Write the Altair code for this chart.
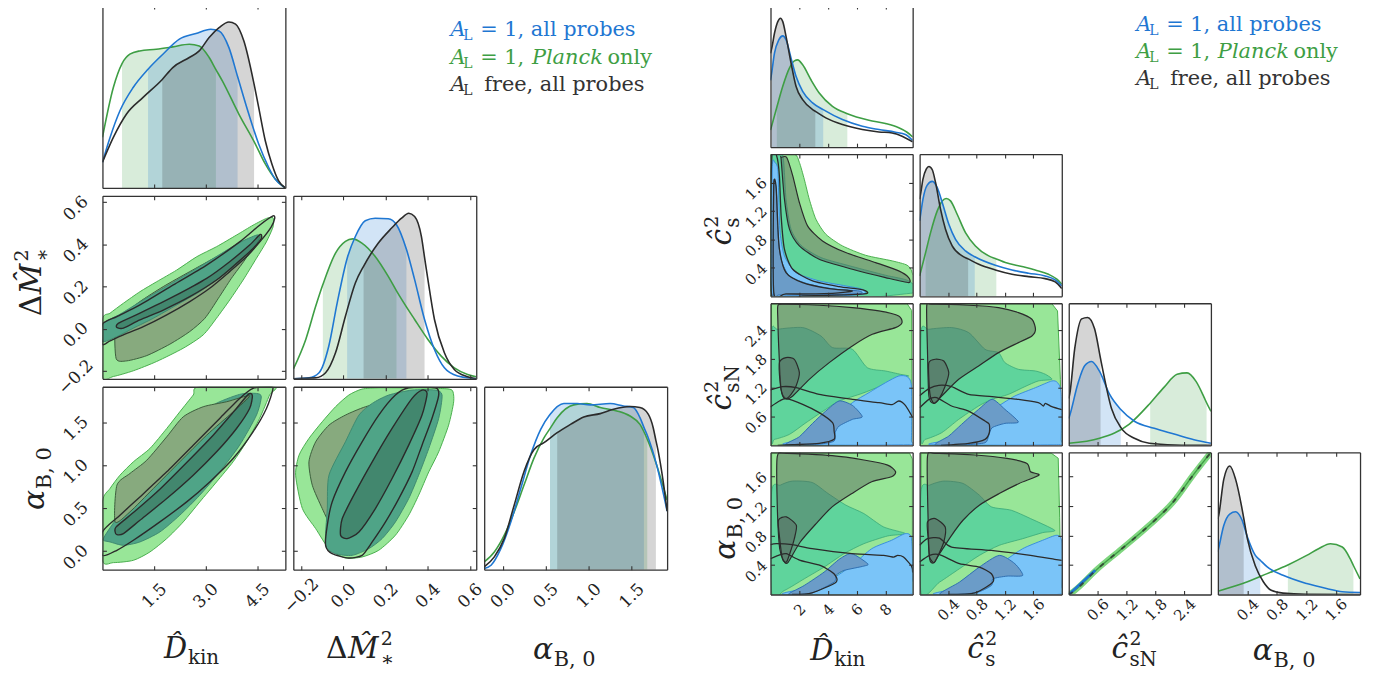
import altair as alt
import pandas as pd

FONT = "DejaVu Serif"
FRAME = "#333333"
TXT = "#222222"
BLUE = "#1f77d2"
GREEN = "#3e9e44"
BLACK = "#2b2b2b"

# ---------------- axis domains / tick labels ----------------
L_DKIN_DOM = [0.0, 5.32]
L_DM_DOM = [-0.237, 0.63]
L_AB_DOM = [-0.215, 1.915]
L_DKIN_TICKS = [1.5, 3.0, 4.5]
L_DM_TICKS = [-0.2, 0.0, 0.2, 0.4, 0.6]
L_AB_TICKS = [0.0, 0.5, 1.0, 1.5]

R_DKIN_DOM = [0.0, 9.9]
R_CS_DOM = [0.0, 2.0]
R_CSN_DOM = [0.0, 2.95]
R_AB_DOM = [0.0, 1.93]
R_DKIN_TICKS = [2, 4, 6, 8]
R_CS_TICKS = [0.4, 0.8, 1.2, 1.6]
R_CSN_TICKS = [0.6, 1.2, 1.8, 2.4]
R_AB_TICKS = [0.4, 0.8, 1.2, 1.6]

# ---------------- 1D marginals (x, density) and shaded intervals ----------------
L_DKIN_GREEN = [(0.0,0.276),(0.317,0.549),(0.57,0.68),(0.797,0.731),(1.085,0.749),(1.566,0.758),(2.046,0.771),(2.526,0.785),(2.815,0.776),(3.103,0.713),(3.30,0.647),(3.487,0.585),(3.967,0.404),(4.448,0.24),(4.736,0.131),(5.024,0.049),(5.264,0.007),(5.32,0.0)]
L_DKIN_BLUE = [(0.0,0.14),(0.221,0.276),(0.509,0.422),(0.893,0.549),(1.326,0.649),(1.758,0.731),(2.238,0.813),(2.719,0.844),(3.151,0.867),(3.391,0.858),(3.679,0.767),(3.93,0.609),(4.256,0.404),(4.544,0.24),(4.832,0.113),(5.024,0.049),(5.264,0.007),(5.32,0.0)]
L_DKIN_BLACK = [(0.0,0.14),(0.317,0.276),(0.701,0.404),(1.182,0.495),(1.74,0.593),(2.046,0.658),(2.526,0.713),(2.815,0.749),(3.103,0.822),(3.391,0.876),(3.679,0.907),(3.871,0.895),(4.111,0.804),(4.41,0.567),(4.544,0.44),(4.736,0.258),(4.928,0.131),(5.12,0.04),(5.32,0.0)]
L_DKIN_CI = {"green": [0.57, 3.30], "blue": [1.326, 3.93], "black": [1.74, 4.41]}

L_DM_GREEN = [(-0.236,0.055),(-0.178,0.215),(-0.131,0.396),(-0.097,0.515),(-0.037,0.687),(0.010,0.751),(0.044,0.765),(0.088,0.742),(0.151,0.669),(0.213,0.56),(0.252,0.481),(0.338,0.324),(0.401,0.215),(0.464,0.124),(0.526,0.06),(0.589,0.024),(0.63,0.011)]
L_DM_BLUE = [(-0.236,0.0),(-0.162,0.005),(-0.115,0.033),(-0.069,0.178),(-0.029,0.415),(0.018,0.658),(0.057,0.778),(0.104,0.864),(0.151,0.878),(0.213,0.875),(0.252,0.842),(0.299,0.708),(0.338,0.542),(0.385,0.324),(0.432,0.16),(0.479,0.06),(0.542,0.015),(0.63,0.0)]
L_DM_BLACK = [(-0.236,0.0),(-0.131,0.005),(-0.084,0.033),(-0.037,0.142),(0.010,0.342),(0.057,0.524),(0.096,0.615),(0.166,0.742),(0.229,0.824),(0.276,0.878),(0.310,0.905),(0.338,0.887),(0.370,0.778),(0.385,0.664),(0.401,0.542),(0.432,0.324),(0.479,0.142),(0.526,0.051),(0.589,0.011),(0.63,0.0)]
L_DM_CI = {"green": [-0.097, 0.252], "blue": [0.018, 0.299], "black": [0.096, 0.385]}

L_AB_BLUE = [(-0.215,0.006),(-0.135,0.024),(-0.02,0.116),(0.096,0.262),(0.212,0.446),(0.327,0.629),(0.443,0.767),(0.551,0.848),(0.713,0.908),(0.867,0.908),(1.021,0.901),(1.252,0.908),(1.406,0.895),(1.522,0.886),(1.599,0.831),(1.645,0.778),(1.695,0.721),(1.792,0.574),(1.915,0.32)]
L_AB_GREEN = [(-0.215,0.042),(-0.097,0.097),(0.019,0.189),(0.135,0.317),(0.25,0.464),(0.366,0.611),(0.481,0.721),(0.551,0.771),(0.635,0.831),(0.828,0.901),(0.982,0.908),(1.136,0.886),(1.329,0.868),(1.483,0.84),(1.599,0.794),(1.684,0.713),(1.792,0.574),(1.915,0.38)]
L_AB_BLACK = [(-0.215,0.015),(-0.097,0.07),(0.019,0.171),(0.135,0.354),(0.25,0.538),(0.366,0.657),(0.481,0.694),(0.635,0.749),(0.79,0.794),(0.944,0.835),(1.136,0.853),(1.291,0.877),(1.483,0.892),(1.599,0.886),(1.695,0.85),(1.753,0.776),(1.784,0.707),(1.811,0.648),(1.869,0.483),(1.915,0.32)]
L_AB_CI = {"green": [0.551, 1.684], "blue": [0.551, 1.645], "black": [0.635, 1.784]}

R_DKIN_BLACK = [(0.0,0.66),(0.092,0.698),(0.277,0.801),(0.508,0.883),(0.692,0.907),(0.854,0.883),(1.085,0.778),(1.431,0.591),(1.777,0.428),(2.239,0.334),(2.931,0.264),(3.12,0.252),(3.854,0.206),(5.008,0.159),(6.393,0.124),(7.547,0.107),(8.47,0.100),(9.163,0.077),(9.9,0.037)]
R_DKIN_BLUE = [(0.0,0.47),(0.092,0.53),(0.277,0.661),(0.577,0.755),(0.854,0.783),(1.085,0.755),(1.431,0.626),(1.777,0.498),(2.239,0.393),(2.931,0.311),(3.67,0.264),(5.008,0.194),(6.393,0.147),(7.547,0.124),(8.701,0.105),(9.394,0.089),(9.9,0.047)]
R_DKIN_GREEN = [(0.0,0.12),(0.44,0.281),(0.854,0.428),(1.316,0.556),(1.662,0.607),(1.893,0.614),(2.239,0.579),(2.816,0.474),(3.393,0.381),(4.316,0.287),(5.35,0.235),(6.855,0.189),(8.009,0.166),(8.932,0.136),(9.509,0.105),(9.9,0.072)]
R_DKIN_CI = {"green": [0.44, 5.35], "blue": [0.092, 3.67], "black": [0.092, 3.12]}

R_CS_BLACK = [(0.0,0.683),(0.014,0.72),(0.047,0.824),(0.093,0.894),(0.131,0.913),(0.178,0.89),(0.224,0.8),(0.294,0.613),(0.364,0.472),(0.458,0.354),(0.598,0.284),(0.682,0.263),(0.832,0.225),(1.065,0.185),(1.299,0.155),(1.533,0.138),(1.766,0.124),(1.907,0.101),(2.0,0.054)]
R_CS_BLUE = [(0.0,0.531),(0.014,0.576),(0.047,0.683),(0.107,0.782),(0.178,0.808),(0.248,0.765),(0.318,0.66),(0.411,0.507),(0.505,0.401),(0.645,0.319),(0.776,0.278),(1.065,0.218),(1.299,0.185),(1.533,0.162),(1.766,0.143),(1.907,0.115),(2.0,0.073)]
R_CS_GREEN = [(0.0,0.143),(0.084,0.307),(0.154,0.448),(0.248,0.601),(0.318,0.671),(0.374,0.688),(0.435,0.671),(0.528,0.577),(0.645,0.448),(0.785,0.354),(0.972,0.284),(1.079,0.263),(1.206,0.237),(1.439,0.209),(1.626,0.185),(1.813,0.155),(1.93,0.12),(2.0,0.085)]
R_CS_CI = {"green": [0.084, 1.079], "blue": [0.014, 0.776], "black": [0.014, 0.682]}

R_CSN_BLACK = [(0.0,0.33),(0.02,0.36),(0.124,0.68),(0.268,0.89),(0.392,0.9),(0.536,0.82),(0.66,0.61),(0.701,0.54),(0.887,0.26),(1.093,0.12),(1.362,0.05),(1.671,0.015),(2.2,0.003),(2.95,0.0)]
R_CSN_BLUE = [(0.0,0.19),(0.02,0.21),(0.186,0.43),(0.33,0.56),(0.474,0.59),(0.64,0.52),(0.846,0.36),(1.08,0.252),(1.362,0.17),(1.774,0.12),(2.186,0.08),(2.599,0.04),(2.95,0.015)]
R_CSN_GREEN = [(0.0,0.015),(0.64,0.05),(1.258,0.15),(1.69,0.297),(1.98,0.41),(2.249,0.5),(2.455,0.51),(2.641,0.45),(2.806,0.34),(2.86,0.30),(2.95,0.24)]
R_CSN_CI = {"green": [1.69, 2.86], "blue": [0.02, 1.08], "black": [0.02, 0.66]}

R_AB_BLACK = [(0.0,0.53),(0.013,0.56),(0.08,0.81),(0.161,0.904),(0.241,0.81),(0.322,0.62),(0.35,0.54),(0.402,0.39),(0.509,0.2),(0.617,0.09),(0.724,0.03),(0.885,0.01),(1.2,0.002),(1.93,0.0)]
R_AB_BLUE = [(0.0,0.3),(0.013,0.33),(0.08,0.485),(0.161,0.566),(0.241,0.582),(0.322,0.531),(0.402,0.403),(0.509,0.275),(0.576,0.241),(0.67,0.194),(0.885,0.135),(1.206,0.077),(1.474,0.042),(1.689,0.019),(1.93,0.014)]
R_AB_GREEN = [(0.0,0.023),(0.402,0.089),(0.67,0.147),(0.95,0.208),(1.206,0.275),(1.367,0.322),(1.528,0.357),(1.689,0.334),(1.796,0.252),(1.84,0.204),(1.93,0.11)]
R_AB_CI = {"green": [0.95, 1.84], "blue": [0.013, 0.576], "black": [0.013, 0.35]}

# ---------------- 2D contour outlines, left triangle ----------------
L10_LG = [(0,0.042),(0.222,0.074),(0.609,0.121),(1.093,0.176),(1.576,0.223),(2.157,0.278),(2.737,0.341),(3.317,0.389),(3.897,0.444),(4.381,0.491),(4.768,0.523),(4.961,0.526),(4.961,0.483),(4.768,0.412),(4.478,0.334),(4.091,0.231),(3.704,0.137),(3.317,0.05),(2.93,-0.029),(2.35,-0.092),(1.576,-0.155),(0.899,-0.199),(0.319,-0.226),(0,-0.226)]
L10_OLIVE = [(0.37,0.003),(0.40,-0.142),(0.71,-0.152),(1.29,-0.127),(1.96,-0.073),(2.54,-0.013),(2.98,0.050),(3.37,0.144),(3.75,0.239),(4.14,0.326),(4.43,0.404),(4.38,0.428),(3.90,0.389),(3.32,0.341),(2.54,0.271),(1.77,0.200),(1.09,0.129),(0.61,0.066)]
L10_TEAL = [(0,0.022),(0.51,0.069),(1.19,0.137),(1.96,0.211),(2.74,0.286),(3.41,0.352),(3.99,0.409),(4.48,0.444),(4.59,0.436),(4.43,0.389),(4.04,0.326),(3.51,0.255),(2.83,0.176),(2.16,0.113),(1.48,0.050),(0.90,0.003),(0.42,-0.037),(0,-0.060)]
L10_K95 = [(0,0.022),(0.42,0.058),(1.09,0.113),(2.06,0.208),(3.03,0.302),(3.99,0.412),(4.57,0.491),(4.96,0.535),(5.01,0.523),(4.91,0.483),(4.62,0.420),(4.19,0.341),(3.70,0.271),(3.12,0.192),(2.54,0.129),(1.87,0.066),(1.19,0.010),(0.61,-0.029),(0.22,-0.057),(0,-0.073)]
L10_K68 = [(0.42,0.006),(0.46,0.026),(1.09,0.074),(2.06,0.152),(3.03,0.239),(3.70,0.318),(4.28,0.397),(4.59,0.447),(4.62,0.428),(4.38,0.381),(3.90,0.310),(3.32,0.231),(2.54,0.152),(1.77,0.089),(1.09,0.042),(0.61,0.003)]

L20_LG = [(0,0.574),(0.22,0.730),(0.51,0.885),(0.90,1.041),(1.38,1.196),(1.87,1.429),(2.25,1.623),(2.64,1.818),(2.83,1.915),(4.96,1.915),(4.86,1.818),(4.57,1.546),(4.19,1.274),(3.80,1.041),(3.32,0.807),(2.83,0.574),(2.35,0.341),(1.87,0.147),(1.38,-0.009),(0.90,-0.106),(0.32,-0.133),(0,-0.106)]
L20_TEAL = [(0.08,0.186),(0.42,0.380),(1.00,0.613),(1.58,0.885),(2.16,1.196),(2.64,1.468),(3.22,1.701),(3.99,1.826),(4.48,1.837),(4.62,1.798),(4.48,1.585),(3.99,1.235),(3.41,0.924),(2.83,0.652),(2.25,0.419),(1.67,0.224),(1.09,0.108),(0.61,0.069),(0.22,0.108),(0.03,0.127)]
L20_OLIVE = [(0.37,0.341),(0.42,0.768),(0.80,0.905),(1.29,1.060),(1.87,1.332),(2.35,1.565),(2.93,1.682),(3.61,1.740),(4.28,1.810),(3.80,1.623),(3.03,1.351),(2.25,1.041),(1.48,0.730),(0.80,0.458)]
L20_K95 = [(0,0.224),(0.51,0.419),(1.09,0.632),(1.87,0.924),(2.64,1.235),(3.41,1.546),(3.99,1.779),(4.38,1.896),(4.77,1.915),(4.96,1.896),(4.77,1.662),(4.38,1.390),(3.80,1.079),(3.12,0.807),(2.45,0.574),(1.67,0.341),(0.90,0.127),(0.42,0.011),(0,-0.048)]
L20_K68 = [(0.37,0.224),(0.40,0.283),(0.90,0.450),(1.67,0.722),(2.45,1.033),(3.22,1.351),(3.80,1.616),(4.24,1.826),(4.36,1.810),(4.28,1.662),(3.90,1.429),(3.32,1.157),(2.64,0.885),(1.87,0.613),(1.09,0.360),(0.61,0.205),(0.42,0.193)]

L21_LG = [(-0.226,0.885),(-0.210,1.118),(-0.163,1.313),(-0.100,1.507),(-0.037,1.682),(0.026,1.818),(0.089,1.888),(0.168,1.903),(0.263,1.903),(0.357,1.903),(0.452,1.896),(0.515,1.876),(0.523,1.740),(0.499,1.468),(0.452,1.157),(0.405,0.924),(0.357,0.652),(0.310,0.419),(0.247,0.186),(0.168,0.011),(0.089,-0.067),(0.010,-0.079),(-0.068,0.030),(-0.131,0.263),(-0.194,0.497)]
L21_OLIVE = [(-0.163,1.040),(-0.131,1.274),(-0.068,1.468),(0.010,1.585),(0.105,1.682),(0.231,1.760),(0.357,1.779),(0.397,1.721),(0.389,1.546),(0.357,1.313),(0.310,1.040),(0.263,0.768),(0.215,0.535),(0.168,0.341),(0.105,0.186),(0.058,0.108),(-0.005,0.127),(-0.053,0.263),(-0.100,0.497),(-0.147,0.768)]
L21_TEAL = [(-0.084,0.069),(-0.076,0.497),(-0.068,0.885),(0.010,1.274),(0.074,1.585),(0.137,1.721),(0.215,1.818),(0.326,1.876),(0.436,1.876),(0.468,1.818),(0.452,1.546),(0.405,1.196),(0.357,0.885),(0.310,0.613),(0.247,0.341),(0.184,0.147),(0.121,0.030),(0.042,-0.048),(-0.037,-0.029)]
L21_K95 = [(-0.084,0.069),(-0.076,0.302),(-0.053,0.574),(0.010,0.924),(0.089,1.274),(0.168,1.585),(0.247,1.818),(0.310,1.903),(0.436,1.903),(0.452,1.818),(0.420,1.546),(0.373,1.235),(0.326,0.924),(0.263,0.613),(0.200,0.341),(0.137,0.108),(0.089,-0.048),(0.026,-0.079),(-0.053,-0.029)]
L21_K68 = [(-0.013,0.186),(-0.005,0.380),(0.058,0.691),(0.137,1.041),(0.231,1.429),(0.326,1.779),(0.373,1.876),(0.397,1.837),(0.373,1.585),(0.310,1.235),(0.231,0.846),(0.152,0.497),(0.074,0.224),(0.018,0.147)]

# ---------------- 2D contour outlines, right triangle ----------------
R10_LG = [(0,2.0),(1.66,2.0),(2.01,1.883),(2.35,1.648),(2.70,1.366),(3.16,1.085),(3.85,0.873),(5.01,0.709),(6.62,0.577),(8.47,0.498),(9.51,0.437),(9.86,0.333),(9.9,0.0),(0,0.0)]
R10_MG = [(0.12,1.986),(0.85,1.986),(1.08,1.366),(1.43,0.944),(2.12,0.718),(3.51,0.545),(5.70,0.418),(8.01,0.296),(9.62,0.216),(9.76,0.042),(0.12,0.042)]
R10_OV = [(0.74,1.953),(1.13,1.953),(1.55,1.695),(2.01,1.319),(2.58,0.991),(3.62,0.779),(5.24,0.615),(7.32,0.474),(8.93,0.357),(9.62,0.263),(9.62,0.192),(8.01,0.263),(5.70,0.380),(3.39,0.521),(2.01,0.709),(1.32,0.944),(0.97,1.366),(0.74,1.930)]
R10_LB = [(0.12,1.789),(0.30,1.883),(0.51,1.789),(0.58,1.366),(0.67,0.897),(0.97,0.568),(1.78,0.333),(3.39,0.216),(5.24,0.146),(6.39,0.099),(6.51,0.033),(4.55,0.005),(1.08,0.0),(0.12,0.0)]
R10_DB = [(0.21,1.554),(0.35,1.577),(0.44,1.366),(0.51,0.897),(0.74,0.521),(1.32,0.286),(2.70,0.169),(4.55,0.099),(6.16,0.075),(6.21,0.038),(3.39,0.019),(0.62,0.019),(0.21,0.042)]
R10_K1 = [(0.09,1.986),(0.44,1.967),(0.62,1.695),(0.74,1.131),(0.97,0.662),(1.55,0.380),(2.93,0.216),(4.78,0.136),(6.44,0.089),(6.53,0.033),(2.24,0.005),(0.09,0.005)]
R10_K2 = [(0.23,1.563),(0.39,1.545),(0.48,1.131),(0.62,0.662),(1.08,0.333),(2.24,0.192),(4.09,0.108),(5.70,0.075),(4.32,0.042),(1.08,0.033),(0.23,0.052)]

R20_LG = [(0.07,2.94),(5.0,2.94),(9.51,2.94),(9.83,2.80),(9.84,1.5),(9.84,0.04),(5.0,0.0),(0.07,0.0),(0.07,1.5)]
R20_MG = [(0.09,2.341),(0.51,2.410),(2.24,2.445),(3.51,2.271),(4.32,2.029),(5.70,1.994),(6.74,1.613),(8.01,1.544),(9.05,1.475),(9.62,1.440),(8.93,1.406),(7.55,1.219),(6.39,1.080),(4.78,0.921),(3.85,0.748),(2.47,0.471),(1.32,0.229),(0.28,0.125),(0.09,0.159)]
R20_LB = [(1.08,0.014),(2.24,0.125),(3.39,0.298),(4.55,0.575),(5.70,0.886),(6.85,1.094),(8.01,1.302),(8.93,1.440),(9.51,1.427),(9.81,1.233),(9.81,0.125),(9.51,0.014)]
R20_DB = [(1.08,0.014),(2.01,0.180),(2.93,0.457),(3.85,0.713),(4.78,0.921),(5.70,0.831),(6.39,0.596),(5.70,0.540),(4.78,0.402),(4.50,0.263),(4.43,0.090),(3.39,0.028)]
R20_OV = [(0.51,2.895),(0.85,2.929),(3.39,2.908),(5.70,2.860),(7.55,2.791),(8.93,2.687),(9.16,2.548),(8.70,2.444),(7.09,2.306),(5.70,2.064),(4.09,1.717),(2.70,1.371),(1.55,1.025),(1.08,0.969),(0.74,1.163),(0.58,1.994),(0.51,2.618)]
R20_BLOB = [(0.62,1.717),(1.08,1.821),(1.66,1.787),(2.01,1.510),(1.78,1.233),(1.43,1.059),(1.08,0.969),(0.85,1.025),(0.67,1.302)]
R20_K1 = [(0.0,1.15),(0.85,1.219),(1.78,1.198),(3.39,1.060),(5.70,0.956),(7.55,0.886),(8.47,0.845),(8.93,0.921),(9.39,0.831),(9.9,0.58)]
R20_K2 = [(0.0,0.80),(0.62,0.921),(1.08,0.969),(2.24,0.852),(3.39,0.679),(4.32,0.471),(4.43,0.298),(4.43,0.125),(3.39,0.042),(1.55,0.014),(0.5,0.0)]

R21_LG = [(0.01,2.94),(1.0,2.94),(1.86,2.94),(1.94,2.79),(1.98,1.371),(1.99,0.042),(1.0,0.0),(0.01,0.0),(0.01,1.5)]
R21_MG = [(0.02,2.341),(0.13,2.410),(0.45,2.445),(0.69,2.341),(0.92,1.994),(1.11,1.925),(1.20,1.717),(1.39,1.579),(1.63,1.544),(1.77,1.475),(1.86,1.371),(1.67,1.337),(1.48,1.219),(1.25,1.059),(1.02,0.956),(0.83,0.817),(0.55,0.540),(0.31,0.263),(0.08,0.125),(0.02,0.159)]
R21_LB = [(0.17,0.014),(0.45,0.125),(0.69,0.332),(0.92,0.609),(1.11,0.817),(1.34,1.025),(1.63,1.198),(1.86,1.337),(1.94,1.302),(1.99,1.094),(1.99,0.125),(1.93,0.014)]
R21_DB = [(0.22,0.014),(0.41,0.194),(0.59,0.436),(0.83,0.748),(1.02,0.956),(1.20,0.748),(1.39,0.485),(1.20,0.457),(1.02,0.367),(0.97,0.194),(0.92,0.055),(0.64,0.014)]
R21_OV = [(0.10,2.895),(0.17,2.929),(0.69,2.908),(1.11,2.860),(1.39,2.756),(1.58,2.618),(1.63,2.410),(1.58,2.271),(1.39,2.133),(1.11,1.925),(0.83,1.648),(0.55,1.371),(0.31,1.025),(0.20,0.873),(0.13,1.025),(0.11,1.994)]
R21_BLOB = [(0.13,1.717),(0.22,1.787),(0.34,1.752),(0.41,1.510),(0.36,1.233),(0.27,0.956),(0.20,0.873),(0.15,1.025),(0.13,1.371)]
R21_K1 = [(0.0,1.03),(0.13,1.177),(0.27,1.246),(0.45,1.219),(0.69,1.059),(1.02,1.011),(1.39,0.956),(1.67,0.886),(1.74,0.817),(1.77,0.873),(1.86,0.803),(2.0,0.74)]
R21_K2 = [(0.0,0.78),(0.13,0.956),(0.24,0.990),(0.45,0.817),(0.69,0.713),(0.92,0.505),(0.98,0.436),(0.98,0.263),(0.92,0.125),(0.69,0.042),(0.3,0.0)]

R30_LG = [(0.08,1.92),(5.0,1.92),(9.68,1.92),(9.88,1.84),(9.88,1.0),(9.88,0.02),(5.0,0.0),(0.08,0.0),(0.08,1.0)]
R30_MG = [(0.08,1.394),(0.69,1.485),(1.52,1.540),(2.90,1.521),(4.01,1.371),(5.25,1.213),(6.50,1.099),(7.88,0.917),(9.40,0.827),(8.16,0.795),(6.50,0.690),(5.12,0.554),(3.73,0.372),(2.35,0.213),(0.97,0.055),(0.08,0.023)]
R30_LB = [(0.97,0.0),(2.90,0.100),(4.29,0.213),(5.67,0.395),(7.05,0.622),(8.43,0.736),(9.40,0.827),(9.82,0.758),(9.90,0.213),(9.68,0.0)]
R30_DB = [(1.24,0.0),(2.35,0.123),(3.73,0.304),(4.84,0.486),(5.67,0.554),(6.77,0.418),(6.50,0.386),(5.12,0.327),(4.56,0.259),(4.42,0.168),(2.90,0.023)]
R30_OV = [(0.47,1.871),(1.11,1.916),(4.29,1.885),(6.50,1.826),(8.16,1.757),(8.71,1.667),(8.43,1.599),(7.05,1.530),(5.67,1.371),(4.29,1.190),(3.18,0.963),(2.07,0.713),(1.24,0.441),(0.97,0.441),(0.64,0.622),(0.47,1.213)]
R30_BLOB = [(0.55,1.008),(1.11,1.054),(1.80,0.940),(1.66,0.758),(1.38,0.577),(1.11,0.441),(0.83,0.486),(0.64,0.758)]
R30_K1 = [(0.0,0.677),(0.41,0.690),(1.52,0.677),(2.90,0.622),(5.67,0.554),(7.88,0.531),(8.57,0.509),(8.85,0.531),(9.26,0.509),(9.82,0.386),(9.9,0.3)]
R30_K2 = [(0.0,0.486),(0.69,0.541),(1.11,0.554),(2.07,0.463),(3.46,0.395),(4.42,0.282),(4.56,0.168),(2.90,0.023),(1.5,0.0)]

R31_LG = [(0.02,1.92),(1.0,1.92),(1.85,1.92),(1.95,1.85),(1.97,1.05),(1.99,0.02),(1.0,0.0),(0.02,0.0),(0.02,1.0)]
R31_MG = [(0.02,1.394),(0.14,1.485),(0.34,1.540),(0.61,1.508),(0.84,1.349),(1.01,1.190),(1.29,1.144),(1.56,1.031),(1.90,0.872),(1.73,0.840),(1.45,0.758),(1.12,0.668),(0.84,0.531),(0.56,0.350),(0.28,0.168),(0.02,0.023)]
R31_LB = [(0.22,0.0),(0.61,0.100),(0.89,0.259),(1.17,0.441),(1.45,0.622),(1.73,0.736),(1.93,0.804),(2.0,0.713),(2.0,0.123),(1.93,0.0)]
R31_DB = [(0.28,0.0),(0.56,0.168),(0.84,0.372),(1.12,0.531),(1.34,0.418),(1.45,0.259),(1.23,0.250),(1.03,0.213),(1.01,0.123),(0.78,0.023)]
R31_OV = [(0.11,1.871),(0.22,1.916),(0.78,1.894),(1.23,1.848),(1.51,1.780),(1.56,1.667),(1.68,1.621),(1.40,1.508),(1.12,1.371),(0.84,1.213),(0.61,1.008),(0.45,0.804),(0.28,0.554),(0.20,0.431),(0.14,0.486),(0.12,0.985)]
R31_BLOB = [(0.11,0.985),(0.22,1.031),(0.36,0.917),(0.34,0.713),(0.25,0.509),(0.20,0.431),(0.14,0.509),(0.12,0.758)]
R31_K1 = [(0.0,0.668),(0.11,0.758),(0.28,0.767),(0.45,0.645),(1.01,0.599),(1.56,0.531),(1.90,0.477),(2.0,0.463)]
R31_K2 = [(0.0,0.441),(0.14,0.531),(0.28,0.541),(0.56,0.418),(0.84,0.372),(1.01,0.282),(1.03,0.168),(0.78,0.023),(0.4,0.0)]

R32_LINE = [(0.0,0.0),(0.025,0.009),(0.60,0.350),(1.10,0.622),(1.67,0.940),(2.17,1.258),(2.58,1.621),(2.95,1.93)]
R32_BLUE = [(0.0,0.0),(0.25,0.15),(0.55,0.33)]

# ---------------- colours ----------------
LG, LG_S = "#98e698", "#4aae4e"
MG, MG_S = "#5fd49c", "#3aa878"
LB, LB_S = "#7ac4f8", "#3a8fdc"
DB, DB_S = "#6b9cc8", "#2f6fb0"
OV = "#56605a"
OLV, OLV_S = "#87aa7e", "#3c5e3c"
TEAL, TEAL_S = "#4fa487", "#3f8a70"
K68F = "#234535"

TL = 4


def sc(dom):
    return alt.Scale(domain=dom, nice=False, zero=False)


def xy(xd, yd):
    return dict(x=alt.X("x:Q", scale=sc(xd), axis=None), y=alt.Y("y:Q", scale=sc(yd), axis=None))


def pts_df(pts):
    return pd.DataFrame({"x": [p[0] for p in pts], "y": [p[1] for p in pts], "i": list(range(len(pts)))})


def region_layer(spec, xd, yd):
    pts, fill, stroke, sw, fop, interp = spec
    ip = {"cc": "cardinal-closed", "lc": "linear-closed", "op": "cardinal"}[interp]
    kw = dict(interpolate=ip, clip=True, strokeWidth=sw, strokeJoin="round")
    if interp != "lc":
        kw["tension"] = 0.3
    if fill:
        kw["fill"] = fill
        kw["fillOpacity"] = fop
    kw["stroke"] = stroke if stroke else fill
    return alt.Chart(pts_df(pts)).mark_line(**kw).encode(order="i:Q", **xy(xd, yd))


def curve_layers(curves, xd):
    lay = []
    for pts, ci, col in curves:
        sub = [p for p in pts if ci[0] - 1e-9 <= p[0] <= ci[1] + 1e-9]
        lay.append(alt.Chart(pts_df(sub)).mark_area(interpolate="monotone", color=col, opacity=0.2, clip=True)
                   .encode(**xy(xd, [0, 1])))
    for pts, ci, col in curves:
        lay.append(alt.Chart(pts_df(pts)).mark_line(interpolate="monotone", color=col, strokeWidth=1.6, clip=True)
                   .encode(**xy(xd, [0, 1])))
    return lay


def axis_layers(xd, yd, xt, yt, xf, yf, xlab, ylab, diag, padx, pady, lsize):
    df = pd.DataFrame({"x": [(xd[0] + xd[1]) / 2], "y": [(yd[0] + yd[1]) / 2]})
    com = dict(grid=False, title=None, zindex=1, labelOverlap=False, labelFlush=False)

    def dom_axis(orient, values, fmt, labels, pad, is_y):
        kw = dict(orient=orient, domain=True, domainColor=FRAME, domainWidth=1.3, ticks=False, tickSize=0,
                  labels=labels, **com)
        if labels:
            kw.update(values=values, format=fmt, labelAngle=-45, labelAlign="center", labelBaseline="middle",
                      labelPadding=pad, labelFont=FONT, labelFontSize=lsize, labelColor=TXT)
            if is_y:
                kw["labelOffset"] = 6
        return alt.Axis(**kw)

    def tick_axis(orient, values):
        return alt.Axis(orient=orient, offset=-TL, domain=False, ticks=True, tickSize=TL, tickColor=FRAME,
                        tickWidth=1.1, labels=False, values=values, **com)

    specs = [
        (dom_axis("bottom", xt, xf, xlab, padx, False), dom_axis("left", yt, yf, ylab, pady, True)),
        (tick_axis("bottom", xt), None if diag else tick_axis("left", yt)),
        (dom_axis("top", xt, xf, False, 0, False), dom_axis("right", yt, yf, False, 0, True)),
        (tick_axis("top", xt), None if diag else tick_axis("right", yt)),
    ]
    out = []
    for ax, ay in specs:
        out.append(alt.Chart(df).mark_point(opacity=0, size=1).encode(
            x=alt.X("x:Q", scale=sc(xd), axis=ax),
            y=alt.Y("y:Q", scale=sc(yd), axis=ay)))
    return out


def text_layer(t, x, y, size, italic=False, color=TXT, angle=0, dx=0, dy=0):
    kw = dict(font=FONT, fontSize=size, align="left", baseline="alphabetic", color=color, dx=dx, dy=dy)
    if italic:
        kw["fontStyle"] = "italic"
    if angle:
        kw["angle"] = angle
    return alt.Chart(pd.DataFrame({"t": [t]})).mark_text(**kw).encode(x=alt.value(x), y=alt.value(y), text="t:N")


def title(pieces, x, y, angle=0):
    return [text_layer(t, x, y, s, it, TXT, angle, dx, dy) for (t, s, it, dx, dy) in pieces]


T_DKIN = [("D\u0302", 29, True, 0, 0), ("kin", 20, False, 24, 6)]
T_DM = [("\u0394", 30, False, 0, 0), ("M\u0302", 30, True, 22, 0), ("2", 19, False, 55, -13), ("\u2217", 20, False, 55, 8)]
T_AB = [("\u03b1", 30, True, 0, 0), ("B, 0", 21, False, 21, 7)]
T_CS = [("c\u0302", 30, True, 0, 0), ("2", 19, False, 18, -13), ("s", 20, False, 18, 8)]
T_CSN = [("c\u0302", 30, True, 0, 0), ("2", 19, False, 18, -13), ("sN", 20, False, 18, 8)]


def legend(x0, ys):
    lines = [
        (BLUE, [("A", 21, True, 0, 0), ("L", 14, False, 13, 4), ("= 1, all probes", 21, False, 30, 0)]),
        (GREEN, [("A", 21, True, 0, 0), ("L", 14, False, 13, 4), ("= 1,", 21, False, 30, 0),
                 ("Planck", 21, True, 82, 0), ("only", 21, False, 158, 0)]),
        ("#333333", [("A", 21, True, 0, 0), ("L", 14, False, 13, 4), ("free, all probes", 21, False, 34, 0)]),
    ]
    out = []
    for (col, pieces), y in zip(lines, ys):
        for (t, s, it, dx, dy) in pieces:
            out.append(text_layer(t, x0, y, s, it, col, 0, dx, dy))
    return out


NOFRAME = alt.ViewBackground(stroke="transparent", strokeWidth=0)


def panel(layers, w):
    return (alt.layer(*layers).resolve_axis(x="independent", y="independent")
            .properties(width=w, height=w, view=NOFRAME))


def blank(w, extra=()):
    base = alt.Chart(pd.DataFrame({"a": [0]})).mark_point(opacity=0, size=1).encode(
        x=alt.value(w / 2), y=alt.value(w / 2))
    return alt.layer(base, *extra).properties(width=w, height=w, view=NOFRAME)


def diag(curves, xd, xt, xf, xlab, padx, lsize, w, titles=()):
    layers = curve_layers(curves, xd) + axis_layers(xd, [0, 1], xt, [], xf, ".1f", xlab, False, True, padx, 0, lsize)
    return panel(layers + list(titles), w)


def twod(regions, xd, yd, xt, yt, xf, yf, xlab, ylab, padx, pady, lsize, w, titles=(), extra=()):
    layers = [region_layer(r, xd, yd) for r in regions] + list(extra)
    layers += axis_layers(xd, yd, xt, yt, xf, yf, xlab, ylab, False, padx, pady, lsize)
    return panel(layers + list(titles), w)


def three(g, b, k, ci):
    return [(g, ci["green"], GREEN), (b, ci["blue"], BLUE), (k, ci["black"], BLACK)]


# ---------------- left triangle ----------------
WL = 184
LPX, LPY, LFS = 26, 27, 17

def left_regions(lg, olive, teal, k95, k68, teal_on_top):
    a = (olive, OLV, OLV_S, 1.0, 1, "cc")
    b = (teal, TEAL, TEAL_S, 1.0, 1, "cc")
    mid = [a, b] if teal_on_top else [b, a]
    return [(lg, LG, LG_S, 1.0, 1, "cc")] + mid + [(k68, K68F, BLACK, 1.4, 0.3, "cc"), (k95, None, BLACK, 1.4, 1, "cc")]

l00 = diag(three(L_DKIN_GREEN, L_DKIN_BLUE, L_DKIN_BLACK, L_DKIN_CI), L_DKIN_DOM, L_DKIN_TICKS, ".1f", False, LPX, LFS, WL)
l11 = diag(three(L_DM_GREEN, L_DM_BLUE, L_DM_BLACK, L_DM_CI), L_DM_DOM, L_DM_TICKS, ".1f", False, LPX, LFS, WL)
l22 = diag(three(L_AB_GREEN, L_AB_BLUE, L_AB_BLACK, L_AB_CI), L_AB_DOM, L_AB_TICKS, ".1f", True, LPX, LFS, WL,
           titles=title(T_AB, 49, 274))
l10 = twod(left_regions(L10_LG, L10_OLIVE, L10_TEAL, L10_K95, L10_K68, True), L_DKIN_DOM, L_DM_DOM,
           L_DKIN_TICKS, L_DM_TICKS, ".1f", ".1f", False, True, LPX, LPY, LFS, WL,
           titles=title(T_DM, -62, 121, 270))
l20 = twod(left_regions(L20_LG, L20_OLIVE, L20_TEAL, L20_K95, L20_K68, False), L_DKIN_DOM, L_AB_DOM,
           L_DKIN_TICKS, L_AB_TICKS, ".1f", ".1f", True, True, LPX, LPY, LFS, WL,
           titles=title(T_DKIN, 62, 273) + title(T_AB, -59, 124, 270))
l21 = twod(left_regions(L21_LG, L21_OLIVE, L21_TEAL, L21_K95, L21_K68, True), L_DM_DOM, L_AB_DOM,
           L_DM_TICKS, L_AB_TICKS, ".1f", ".1f", True, False, LPX, LPY, LFS, WL,
           titles=title(T_DM, 33, 273))

left = alt.concat(l00, blank(WL, legend(158, [31, 59, 87])), blank(WL),
                  l10, l11, blank(WL),
                  l20, l21, l22, columns=3, spacing=8, bounds="flush")

# ---------------- right triangle ----------------
WR = 143
RPX, RPY, RFS = 15, 15, 15

def right_regions(lg, mg, lb, db, ov, blob, k1, k2, lg_interp="lc"):
    return [(lg, LG, LG_S, 1.0, 1, lg_interp), (mg, MG, MG_S, 0.8, 1, "cc"), (lb, LB, LB_S, 1.0, 1, "cc"),
            (db, DB, DB_S, 1.0, 1, "cc"), (ov, OV, BLACK, 1.2, 0.45, "cc"), (blob, OV, BLACK, 1.2, 0.45, "cc"),
            (k1, None, BLACK, 1.3, 1, "op"), (k2, None, BLACK, 1.3, 1, "op")]

r00 = diag(three(R_DKIN_GREEN, R_DKIN_BLUE, R_DKIN_BLACK, R_DKIN_CI), R_DKIN_DOM, R_DKIN_TICKS, "d", False, RPX, RFS, WR)
r11 = diag(three(R_CS_GREEN, R_CS_BLUE, R_CS_BLACK, R_CS_CI), R_CS_DOM, R_CS_TICKS, ".1f", False, RPX, RFS, WR)
r22 = diag(three(R_CSN_GREEN, R_CSN_BLUE, R_CSN_BLACK, R_CSN_CI), R_CSN_DOM, R_CSN_TICKS, ".1f", False, RPX, RFS, WR)
r33 = diag(three(R_AB_GREEN, R_AB_BLUE, R_AB_BLACK, R_AB_CI), R_AB_DOM, R_AB_TICKS, ".1f", True, RPX, RFS, WR,
           titles=title(T_AB, 35, 209))

r10_regions = [(R10_LG, LG, LG_S, 1.0, 1, "cc"), (R10_MG, MG, MG_S, 0.8, 1, "cc"), (R10_OV, OV, BLACK, 1.2, 0.45, "cc"),
               (R10_LB, LB, LB_S, 1.0, 1, "cc"), (R10_DB, DB, DB_S, 1.0, 1, "cc"),
               (R10_K1, None, BLACK, 1.3, 1, "cc"), (R10_K2, None, BLACK, 1.3, 1, "cc")]
r10 = twod(r10_regions, R_DKIN_DOM, R_CS_DOM, R_DKIN_TICKS, R_CS_TICKS, "d", ".1f", False, True, RPX, RPY, RFS, WR,
           titles=title(T_CS, -40, 92, 270))
r20 = twod(right_regions(R20_LG, R20_MG, R20_LB, R20_DB, R20_OV, R20_BLOB, R20_K1, R20_K2),
           R_DKIN_DOM, R_CSN_DOM, R_DKIN_TICKS, R_CSN_TICKS, "d", ".1f", False, True, RPX, RPY, RFS, WR,
           titles=title(T_CSN, -40, 108, 270))
r21 = twod(right_regions(R21_LG, R21_MG, R21_LB, R21_DB, R21_OV, R21_BLOB, R21_K1, R21_K2),
           R_CS_DOM, R_CSN_DOM, R_CS_TICKS, R_CSN_TICKS, ".1f", ".1f", False, False, RPX, RPY, RFS, WR)
r30 = twod(right_regions(R30_LG, R30_MG, R30_LB, R30_DB, R30_OV, R30_BLOB, R30_K1, R30_K2),
           R_DKIN_DOM, R_AB_DOM, R_DKIN_TICKS, R_AB_TICKS, "d", ".1f", True, True, RPX, RPY, RFS, WR,
           titles=title(T_DKIN, 40, 209) + title(T_AB, -36, 108, 270))
r31 = twod(right_regions(R31_LG, R31_MG, R31_LB, R31_DB, R31_OV, R31_BLOB, R31_K1, R31_K2),
           R_CS_DOM, R_AB_DOM, R_CS_TICKS, R_AB_TICKS, ".1f", ".1f", True, False, RPX, RPY, RFS, WR,
           titles=title(T_CS, 48, 207))

r32_lines = [
    alt.Chart(pts_df(R32_LINE)).mark_line(interpolate="monotone", color="#7fd67f", strokeWidth=6, clip=True).encode(**xy(R_CSN_DOM, R_AB_DOM)),
    alt.Chart(pts_df(R32_LINE)).mark_line(interpolate="monotone", color=GREEN, strokeWidth=1.3, clip=True).encode(**xy(R_CSN_DOM, R_AB_DOM)),
    alt.Chart(pts_df(R32_BLUE)).mark_line(interpolate="monotone", color=BLUE, strokeWidth=2.5, clip=True).encode(**xy(R_CSN_DOM, R_AB_DOM)),
    alt.Chart(pts_df(R32_LINE)).mark_line(interpolate="monotone", color=BLACK, strokeWidth=2, strokeDash=[5, 9], opacity=0.7, clip=True).encode(**xy(R_CSN_DOM, R_AB_DOM)),
]
r32 = twod([], R_CSN_DOM, R_AB_DOM, R_CSN_TICKS, R_AB_TICKS, ".1f", ".1f", True, False, RPX, RPY, RFS, WR,
           titles=title(T_CSN, 43, 207), extra=r32_lines)

right = alt.concat(r00, blank(WR), blank(WR, legend(68, [26, 53, 80])), blank(WR),
                   r10, r11, blank(WR), blank(WR),
                   r20, r21, r22, blank(WR),
                   r30, r31, r32, r33, columns=4, spacing=7, bounds="flush")

chart = (alt.hconcat(left, right, spacing=36)
         .properties(padding={"left": 5, "top": -6, "right": 5, "bottom": 5})
         .configure(background="white")
         .configure_view(strokeWidth=0, stroke="transparent"))

chart.save("out.html", embed_options={"renderer": "svg", "actions": False})
